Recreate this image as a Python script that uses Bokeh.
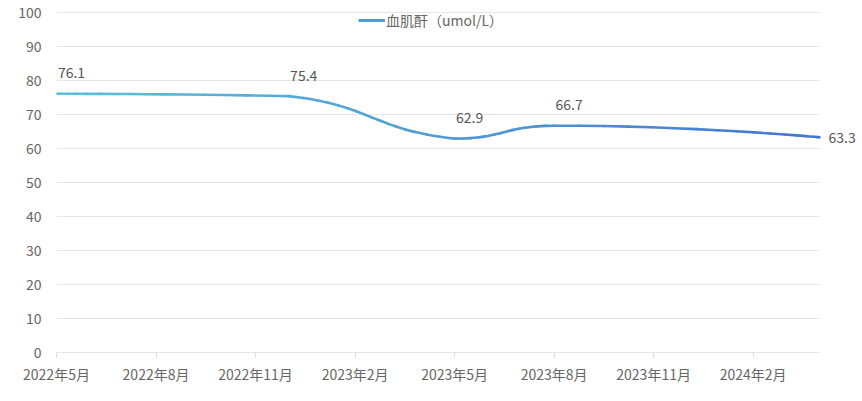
from bokeh.plotting import figure
from bokeh.models import (ColumnDataSource, FixedTicker, LabelSet,
                          Legend, LegendItem, Range1d)
from bokeh.core.properties import value
from bokeh.embed import file_html
from bokeh.resources import INLINE
import math

# ---------------- data ----------------
axis_months = ["2022年5月", "2022年6月", "2022年7月", "2022年8月", "2022年9月",
               "2022年10月", "2022年11月", "2022年12月", "2023年1月", "2023年2月",
               "2023年3月", "2023年4月", "2023年5月", "2023年6月", "2023年7月",
               "2023年8月", "2023年9月", "2023年10月", "2023年11月", "2023年12月",
               "2024年1月", "2024年2月", "2024年3月", "2024年4月"]
tick_months = ["2022年5月", "2022年8月", "2022年11月", "2023年2月",
               "2023年5月", "2023年8月", "2023年11月", "2024年2月"]
point_months = ["2022年5月", "2022年12月", "2023年5月", "2023年8月", "2024年4月"]
values = [76.1, 75.4, 62.9, 66.7, 63.3]
series_name = "血肌酐（umol/L）"
y_ticks = [0, 10, 20, 30, 40, 50, 60, 70, 80, 90, 100]

# ---------------- layout / style ----------------
W, H = 860, 390
B_LEFT, B_RIGHT, B_TOP, B_BOTTOM = 56, 0, 0, 38
AXIS_SPAN_X = 763        # screen width of the category axis
AXIS_SPAN_Y = 340        # screen height of the 0..100 value axis
FONT = "Noto Sans CJK SC"
C_START = (90, 193, 221)
C_END = (68, 118, 210)
GRID = "#E6E6E6"
AXIS = "#DADADA"

xs = [axis_months.index(m) for m in point_months]
x_max = len(axis_months) - 1
y_max = y_ticks[-1]
frame_w = W - B_LEFT - B_RIGHT
frame_h = H - B_TOP - B_BOTTOM
x_view_end = frame_w * x_max / AXIS_SPAN_X
y_view_end = frame_h * y_max / AXIS_SPAN_Y

p = figure(width=W, height=H, output_backend="svg", toolbar_location=None,
           x_range=Range1d(0, x_view_end), y_range=Range1d(0, y_view_end),
           min_border_left=B_LEFT, min_border_right=B_RIGHT,
           min_border_top=B_TOP, min_border_bottom=B_BOTTOM)
p.outline_line_color = None
p.background_fill_color = "white"
p.border_fill_color = "white"

# grid lines and axis line limited to the category span
p.xgrid.grid_line_color = None
p.ygrid.grid_line_color = None
p.segment(x0=[0] * len(y_ticks), x1=[x_max] * len(y_ticks), y0=y_ticks, y1=y_ticks,
          line_color=GRID, line_width=1)
p.segment(x0=[0], x1=[x_max], y0=[0], y1=[0], line_color=AXIS, line_width=1)

# axes
tick_idx = [axis_months.index(m) for m in tick_months]
p.xaxis.ticker = FixedTicker(ticks=tick_idx)
p.xaxis.major_label_overrides = {i: m for i, m in zip(tick_idx, tick_months)}
p.xaxis.axis_line_color = None
p.xaxis.major_tick_line_color = AXIS
p.xaxis.major_tick_out = 5
p.xaxis.major_tick_in = 0
p.xaxis.minor_tick_line_color = None
p.xaxis.major_label_standoff = 6
p.xaxis.major_label_text_font = FONT
p.xaxis.major_label_text_font_size = "14px"
p.xaxis.major_label_text_color = "#666666"

p.yaxis.ticker = FixedTicker(ticks=y_ticks)
p.yaxis.axis_line_color = None
p.yaxis.major_tick_line_color = None
p.yaxis.minor_tick_line_color = None
p.yaxis.major_tick_out = 0
p.yaxis.major_label_standoff = 15
p.yaxis.major_label_text_font = FONT
p.yaxis.major_label_text_font_size = "14px"
p.yaxis.major_label_text_color = "#666666"

# ---------------- smooth line (echarts-like smoothing, in screen space) ----------------
sx = frame_w / x_view_end
sy = frame_h / y_view_end
pts = [(x * sx, v * sy) for x, v in zip(xs, values)]
smooth = 0.5
minX = min(q[0] for q in pts); maxX = max(q[0] for q in pts)
minY = min(q[1] for q in pts); maxY = max(q[1] for q in pts)


def clamp(c):
    return (min(max(c[0], minX), maxX), min(max(c[1], minY), maxY))


segs = []
cp0 = pts[0]
n = len(pts)
for i in range(1, n):
    pt = pts[i]
    prev = pts[i - 1]
    if i == n - 1:
        cp1 = pt
        v = (0.0, 0.0)
        r = 0.5
    else:
        nxt = pts[i + 1]
        v = (nxt[0] - prev[0], nxt[1] - prev[1])
        lp = math.dist(pt, prev)
        ln = math.dist(pt, nxt)
        r = ln / (ln + lp)
        cp1 = (pt[0] - v[0] * smooth * (1 - r), pt[1] - v[1] * smooth * (1 - r))
    cp0 = clamp(cp0)
    cp1 = clamp(cp1)
    segs.append((prev, cp0, cp1, pt))
    cp0 = (pt[0] + v[0] * smooth * r, pt[1] + v[1] * smooth * r)


def lerp(a, b, t):
    return (a[0] + (b[0] - a[0]) * t, a[1] + (b[1] - a[1]) * t)


def split(P, t):
    p0, p1, p2, p3 = P
    a = lerp(p0, p1, t); b = lerp(p1, p2, t); c = lerp(p2, p3, t)
    d = lerp(a, b, t); e = lerp(b, c, t)
    f = lerp(d, e, t)
    return (p0, a, d, f), (f, e, c, p3)


pieces = []
for s in segs:
    rem = s
    N = 16
    for k in range(N):
        if k == N - 1:
            pieces.append(rem)
        else:
            left, rem = split(rem, 1.0 / (N - k))
            pieces.append(left)


def col(t):
    t = min(max(t, 0), 1)
    c = tuple(int(round(C_START[j] + (C_END[j] - C_START[j]) * t)) for j in range(3))
    return "#%02x%02x%02x" % c


bz = dict(x0=[], y0=[], x1=[], y1=[], cx0=[], cy0=[], cx1=[], cy1=[], color=[])
for (a, b, c, d) in pieces:
    bz["x0"].append(a[0] / sx); bz["y0"].append(a[1] / sy)
    bz["cx0"].append(b[0] / sx); bz["cy0"].append(b[1] / sy)
    bz["cx1"].append(c[0] / sx); bz["cy1"].append(c[1] / sy)
    bz["x1"].append(d[0] / sx); bz["y1"].append(d[1] / sy)
    bz["color"].append(col(((a[0] + d[0]) / 2 - minX) / (maxX - minX)))

p.bezier(x0="x0", y0="y0", x1="x1", y1="y1", cx0="cx0", cy0="cy0",
         cx1="cx1", cy1="cy1", line_color="color", line_width=2.6,
         line_cap="round", source=ColumnDataSource(bz))

# ---------------- data labels ----------------
lab_src = ColumnDataSource(dict(x=xs[:-1], y=values[:-1],
                                t=["%.1f" % v for v in values[:-1]]))
p.add_layout(LabelSet(x="x", y="y", text="t", source=lab_src,
                      x_offset=15, y_offset=21, text_align="center",
                      text_baseline="middle", text_font=value(FONT),
                      text_font_size=value("14px"), text_color=value("#555555")))
last_src = ColumnDataSource(dict(x=xs[-1:], y=values[-1:],
                                 t=["%.1f" % v for v in values[-1:]]))
p.add_layout(LabelSet(x="x", y="y", text="t", source=last_src,
                      x_offset=9, y_offset=0, text_align="left",
                      text_baseline="middle", text_font=value(FONT),
                      text_font_size=value("14px"), text_color=value("#555555")))

# ---------------- legend ----------------
dummy = p.line(x=[float("nan")], y=[float("nan")], line_color=col(0.5), line_width=3)
legend = Legend(items=[LegendItem(label=series_name, renderers=[dummy])],
                location=(302, frame_h - 30), orientation="horizontal",
                padding=0, margin=0, border_line_color=None,
                background_fill_alpha=0, glyph_width=27, glyph_height=20,
                label_height=20, label_standoff=1, label_text_font=FONT,
                label_text_font_size="14px", label_text_color="#666666")
p.add_layout(legend)

open("out.html", "w").write(file_html(p, INLINE))
